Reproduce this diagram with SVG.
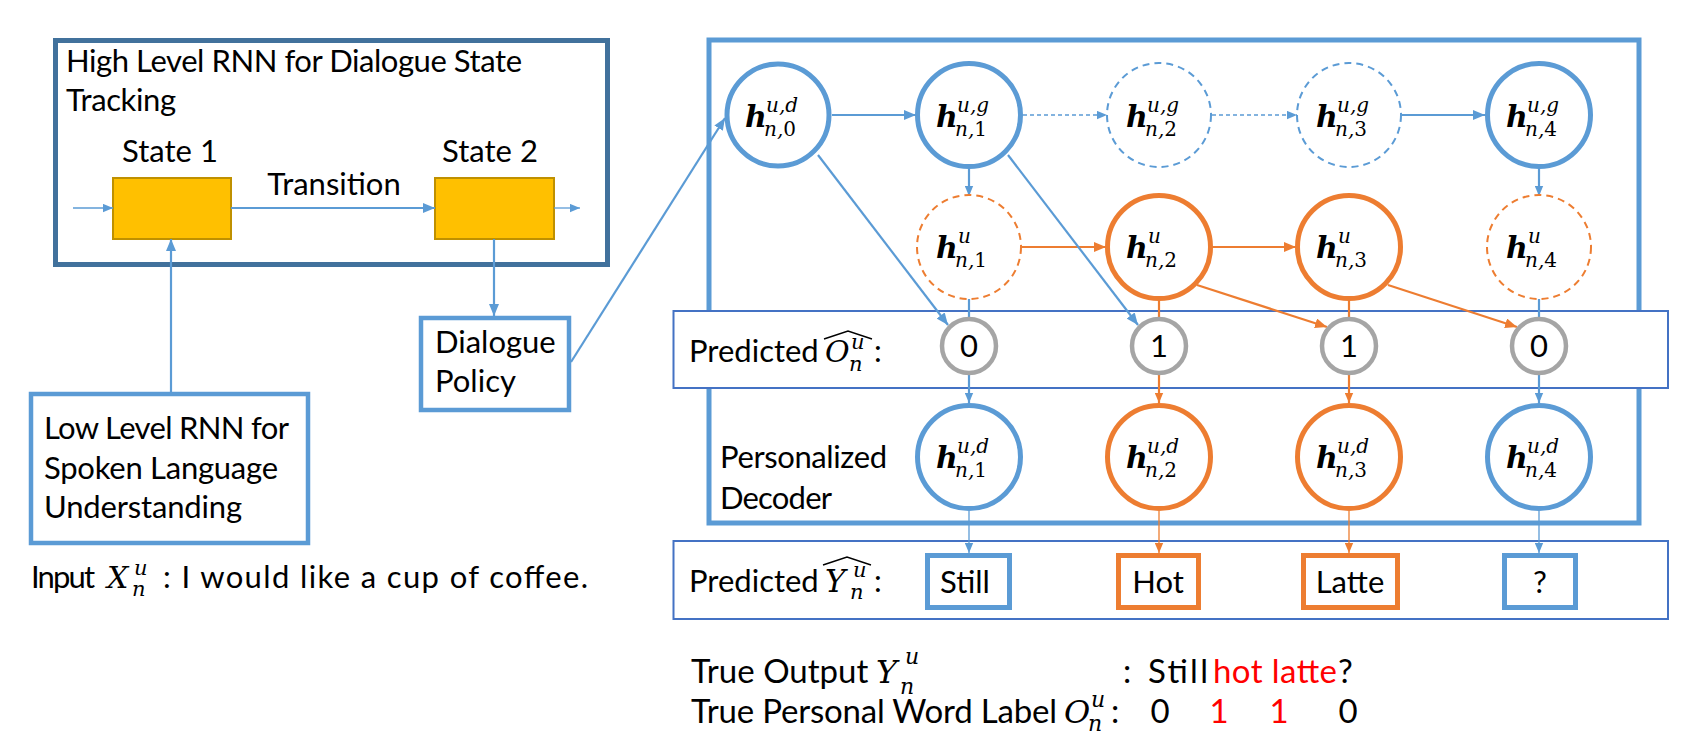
<svg xmlns="http://www.w3.org/2000/svg" width="1683" height="741" viewBox="0 0 1683 741">
<style>
.t{font-family:Lato,"Liberation Sans",sans-serif;font-size:31px;fill:#000}
.tb{font-family:Lato,"Liberation Sans",sans-serif;font-size:33px;fill:#000}
.red{fill:#FF0000}
.mi{font-family:"DejaVu Serif",serif;font-style:italic;fill:#000}
.h{font-family:"DejaVu Serif",serif;font-style:italic;font-weight:bold;font-size:30px;fill:#000}
.ss{font-family:"DejaVu Serif",serif;font-style:italic;font-size:20px;fill:#000}
.up{font-style:normal}
.nb{fill:#fff;stroke:#5B9BD5;stroke-width:5}
.no{fill:#fff;stroke:#ED7D31;stroke-width:5}
.db{fill:#fff;stroke:#5B9BD5;stroke-width:2;stroke-dasharray:7 5}
.do{fill:#fff;stroke:#ED7D31;stroke-width:2;stroke-dasharray:7 5}
.pc{fill:#fff;stroke:#A5A5A5;stroke-width:4.5}
.lb{stroke:#5B9BD5;stroke-width:2.2;fill:none}
.lo{stroke:#ED7D31;stroke-width:2.2;fill:none}
.thin{stroke-width:1.3}
.dash{stroke-dasharray:4 3;stroke-width:1.5}
.st{fill:#FFC000;stroke:#BF9000;stroke-width:2}
.bx{fill:#fff;stroke:#5B9BD5;stroke-width:4.5}
.ob{fill:#fff;stroke:#ED7D31;stroke-width:5}
.bb{fill:#fff;stroke:#5B9BD5;stroke-width:5}
.band{fill:#fff;stroke:#4472C4;stroke-width:2}
.hat{fill:none;stroke:#000;stroke-width:1.4}
</style>
<defs>
<marker id="ab" viewBox="0 0 12 10" refX="12" refY="5" markerWidth="12" markerHeight="10" markerUnits="userSpaceOnUse" orient="auto"><path d="M0,0 L12,5 L0,10 z" fill="#5B9BD5"/></marker>
<marker id="ao" viewBox="0 0 12 10" refX="12" refY="5" markerWidth="12" markerHeight="10" markerUnits="userSpaceOnUse" orient="auto"><path d="M0,0 L12,5 L0,10 z" fill="#ED7D31"/></marker>
<marker id="abs" viewBox="0 0 12 10" refX="12" refY="5" markerWidth="10" markerHeight="9" markerUnits="userSpaceOnUse" orient="auto"><path d="M0,0 L12,5 L0,10 z" fill="#5B9BD5"/></marker>
<marker id="aos" viewBox="0 0 12 10" refX="12" refY="5" markerWidth="10" markerHeight="9" markerUnits="userSpaceOnUse" orient="auto"><path d="M0,0 L12,5 L0,10 z" fill="#ED7D31"/></marker>
</defs>
<rect width="1683" height="741" fill="#fff"/>

<!-- Left: high level RNN -->
<g id="hl-rnn">
<rect x="55.5" y="40.5" width="552" height="224" fill="#fff" stroke="#41719C" stroke-width="5"/>
<text class="t" x="66" y="72" textLength="456">High Level RNN for Dialogue State</text>
<text class="t" x="66" y="111" textLength="110">Tracking</text>
</g>
<g id="state1">
<rect class="st" x="113" y="178" width="118" height="61"/>
<text class="t" x="170" y="162" text-anchor="middle">State 1</text>
</g>
<g id="state2">
<rect class="st" x="435" y="178" width="119" height="61"/>
<text class="t" x="490" y="162" text-anchor="middle">State 2</text>
</g>
<g id="transition-label"><text class="t" x="334" y="195" text-anchor="middle">Transition</text></g>
<g id="dialogue-policy">
<rect class="bx" x="421" y="318" width="148" height="92"/>
<text class="t" x="435" y="353">Dialogue</text>
<text class="t" x="435" y="392">Policy</text>
</g>
<g id="low-rnn">
<rect class="bx" x="31" y="394" width="277" height="149"/>
<text class="t" x="44" y="439" textLength="245">Low Level RNN for</text>
<text class="t" x="44" y="479" textLength="234">Spoken Language</text>
<text class="t" x="44" y="518" textLength="198">Understanding</text>
</g>
<g id="input-text">
<text class="t" x="31" y="588" font-size="32" textLength="64">Input</text>
<text class="mi" font-size="30"><tspan x="107" y="588">X</tspan><tspan x="134" y="575" font-size="21">u</tspan><tspan x="132" y="596" font-size="21">n</tspan></text>
<text class="t" x="163" y="588" font-size="33" textLength="425">: I would like a cup of coffee.</text>
</g>

<!-- Right: big box and bands -->
<g id="model-box"><rect x="709" y="40" width="930" height="483" fill="none" stroke="#5B9BD5" stroke-width="5"/></g>
<g id="pred-o-band">
<rect class="band" x="673.5" y="311" width="994.5" height="77"/>
<text class="t" x="689" y="362" font-size="29">Predicted</text>
<text class="mi" font-size="30"><tspan x="825" y="362">O</tspan><tspan x="851" y="349" font-size="21">u</tspan><tspan x="849" y="371" font-size="21">n</tspan></text>
<path class="hat" d="M824,339 L848,331 L872,339"/>
<text class="t" x="874" y="362">:</text>
</g>
<g id="pred-y-band">
<rect class="band" x="673.5" y="541" width="994.5" height="78"/>
<text class="t" x="689" y="592" font-size="29">Predicted</text>
<text class="mi" font-size="31"><tspan x="825" y="592">Y</tspan><tspan x="853" y="577" font-size="21">u</tspan><tspan x="850" y="599" font-size="21">n</tspan></text>
<path class="hat" d="M823,565 L847,557 L871,565"/>
<text class="t" x="874" y="592">:</text>
</g>
<g id="decoder-label">
<text class="t" x="720" y="468" textLength="167">Personalized</text>
<text class="t" x="720" y="509" textLength="112">Decoder</text>
</g>

<!-- Connectors -->
<g id="connectors">
<line class="lb thin" x1="73" y1="208" x2="113" y2="208" marker-end="url(#abs)"/>
<line class="lb" x1="231" y1="208" x2="435" y2="208" stroke-width="2.8" marker-end="url(#ab)"/>
<line class="lb thin" x1="554" y1="208" x2="580" y2="208" marker-end="url(#abs)"/>
<line class="lb" x1="171" y1="392" x2="171" y2="239" stroke-width="2.6" marker-end="url(#ab)"/>
<line class="lb" x1="494" y1="239" x2="494" y2="316" stroke-width="2.6" marker-end="url(#ab)"/>
<line class="lb" x1="571" y1="362" x2="725" y2="118" marker-end="url(#ab)"/>

<line class="lb" x1="832" y1="115" x2="916" y2="115" stroke-width="2.6" marker-end="url(#ab)"/>
<line class="lb dash" x1="1023" y1="115" x2="1107" y2="115" marker-end="url(#abs)"/>
<line class="lb dash" x1="1212" y1="115" x2="1297" y2="115" marker-end="url(#abs)"/>
<line class="lb" x1="1402" y1="115" x2="1485" y2="115" stroke-width="2.6" marker-end="url(#ab)"/>
<line class="lb" x1="969" y1="168" x2="969" y2="196" marker-end="url(#abs)"/>
<line class="lb" x1="1539" y1="168" x2="1539" y2="196" marker-end="url(#abs)"/>
<line class="lo" x1="1021" y1="247" x2="1106" y2="247" stroke-width="2.6" marker-end="url(#ao)"/>
<line class="lo" x1="1212" y1="247" x2="1296" y2="247" stroke-width="2.6" marker-end="url(#ao)"/>

<line class="lb" x1="818" y1="155" x2="948" y2="325" marker-end="url(#ab)"/>
<line class="lb" x1="1008" y1="155" x2="1138" y2="325" marker-end="url(#ab)"/>
<line class="lo" x1="1197" y1="285" x2="1327" y2="327" marker-end="url(#ao)"/>
<line class="lo" x1="1388" y1="285" x2="1517" y2="327" marker-end="url(#ao)"/>

<line class="lb" x1="969" y1="298" x2="969" y2="320"/>
<line class="lo" x1="1159" y1="300" x2="1159" y2="320"/>
<line class="lo" x1="1349" y1="300" x2="1349" y2="320"/>
<line class="lb" x1="1539" y1="298" x2="1539" y2="320"/>

<line class="lb" x1="969" y1="374" x2="969" y2="403" marker-end="url(#abs)"/>
<line class="lo" x1="1159" y1="374" x2="1159" y2="403" marker-end="url(#aos)"/>
<line class="lo" x1="1349" y1="374" x2="1349" y2="403" marker-end="url(#aos)"/>
<line class="lb" x1="1539" y1="374" x2="1539" y2="403" marker-end="url(#abs)"/>

<line class="lb thin" x1="969" y1="511" x2="969" y2="553" marker-end="url(#abs)"/>
<line class="lo thin" x1="1159" y1="511" x2="1159" y2="553" marker-end="url(#aos)"/>
<line class="lo thin" x1="1349" y1="511" x2="1349" y2="553" marker-end="url(#aos)"/>
<line class="lb thin" x1="1539" y1="511" x2="1539" y2="553" marker-end="url(#abs)"/>
</g>

<!-- Row 1 -->
<g id="h-n0-d"><circle class="nb" cx="778" cy="115" r="51"/>
<text class="h" x="745" y="127">h</text><text class="ss" x="766" y="112">u,d</text><text class="ss" x="764" y="136">n,<tspan class="up">0</tspan></text></g>
<g id="h-n1-g"><circle class="nb" cx="969" cy="115" r="51.5"/>
<text class="h" x="936" y="127">h</text><text class="ss" x="957" y="112">u,g</text><text class="ss" x="955" y="136">n,<tspan class="up">1</tspan></text></g>
<g id="h-n2-g"><circle class="db" cx="1159" cy="115" r="52"/>
<text class="h" x="1126" y="127">h</text><text class="ss" x="1147" y="112">u,g</text><text class="ss" x="1145" y="136">n,<tspan class="up">2</tspan></text></g>
<g id="h-n3-g"><circle class="db" cx="1349" cy="115" r="52"/>
<text class="h" x="1316" y="127">h</text><text class="ss" x="1337" y="112">u,g</text><text class="ss" x="1335" y="136">n,<tspan class="up">3</tspan></text></g>
<g id="h-n4-g"><circle class="nb" cx="1539" cy="115" r="51.5"/>
<text class="h" x="1506" y="127">h</text><text class="ss" x="1527" y="112">u,g</text><text class="ss" x="1525" y="136">n,<tspan class="up">4</tspan></text></g>

<!-- Row 2 -->
<g id="h-n1-u"><circle class="do" cx="969" cy="247" r="52"/>
<text class="h" x="936" y="258">h</text><text class="ss" x="958" y="243">u</text><text class="ss" x="955" y="267">n,<tspan class="up">1</tspan></text></g>
<g id="h-n2-u"><circle class="no" cx="1159" cy="247" r="51.5"/>
<text class="h" x="1126" y="258">h</text><text class="ss" x="1148" y="243">u</text><text class="ss" x="1145" y="267">n,<tspan class="up">2</tspan></text></g>
<g id="h-n3-u"><circle class="no" cx="1349" cy="247" r="51.5"/>
<text class="h" x="1316" y="258">h</text><text class="ss" x="1338" y="243">u</text><text class="ss" x="1335" y="267">n,<tspan class="up">3</tspan></text></g>
<g id="h-n4-u"><circle class="do" cx="1539" cy="247" r="52"/>
<text class="h" x="1506" y="258">h</text><text class="ss" x="1528" y="243">u</text><text class="ss" x="1525" y="267">n,<tspan class="up">4</tspan></text></g>

<!-- Row 3 -->
<g id="o1"><circle class="pc" cx="969" cy="346" r="27"/><text class="t" x="969" y="357" text-anchor="middle">0</text></g>
<g id="o2"><circle class="pc" cx="1159" cy="346" r="27"/><text class="t" x="1159" y="357" text-anchor="middle">1</text></g>
<g id="o3"><circle class="pc" cx="1349" cy="346" r="27"/><text class="t" x="1349" y="357" text-anchor="middle">1</text></g>
<g id="o4"><circle class="pc" cx="1539" cy="346" r="27"/><text class="t" x="1539" y="357" text-anchor="middle">0</text></g>

<!-- Row 4 -->
<g id="h-n1-d"><circle class="nb" cx="969" cy="457" r="51.5"/>
<text class="h" x="936" y="468">h</text><text class="ss" x="957" y="453">u,d</text><text class="ss" x="955" y="477">n,<tspan class="up">1</tspan></text></g>
<g id="h-n2-d"><circle class="no" cx="1159" cy="457" r="51.5"/>
<text class="h" x="1126" y="468">h</text><text class="ss" x="1147" y="453">u,d</text><text class="ss" x="1145" y="477">n,<tspan class="up">2</tspan></text></g>
<g id="h-n3-d"><circle class="no" cx="1349" cy="457" r="51.5"/>
<text class="h" x="1316" y="468">h</text><text class="ss" x="1337" y="453">u,d</text><text class="ss" x="1335" y="477">n,<tspan class="up">3</tspan></text></g>
<g id="h-n4-d"><circle class="nb" cx="1539" cy="457" r="51.5"/>
<text class="h" x="1506" y="468">h</text><text class="ss" x="1527" y="453">u,d</text><text class="ss" x="1525" y="477">n,<tspan class="up">4</tspan></text></g>

<!-- Outputs -->
<g id="y1"><rect class="bb" x="927.5" y="555.5" width="82" height="52"/><text class="t" x="965" y="593" text-anchor="middle">Still</text></g>
<g id="y2"><rect class="ob" x="1118.5" y="555.5" width="80" height="52"/><text class="t" x="1158" y="593" text-anchor="middle">Hot</text></g>
<g id="y3"><rect class="ob" x="1303.5" y="555.5" width="94" height="52"/><text class="t" x="1350" y="593" text-anchor="middle">Latte</text></g>
<g id="y4"><rect class="bb" x="1504.5" y="555.5" width="71" height="52"/><text class="t" x="1540" y="593" text-anchor="middle">?</text></g>

<!-- Bottom truth text -->
<g id="truth">
<text class="tb" x="691" y="683" font-size="31">True Output</text>
<text class="mi" font-size="32"><tspan x="876" y="683">Y</tspan><tspan x="905" y="664" font-size="22">u</tspan><tspan x="900" y="694" font-size="22">n</tspan></text>
<text class="tb" x="1123" y="683">:</text>
<text class="tb" x="1148" y="683" textLength="60">Still</text>
<text class="tb red" x="1213" y="683" textLength="124">hot latte</text>
<text class="tb" x="1338" y="683">?</text>
<text class="tb" x="691" y="723" textLength="366">True Personal Word Label</text>
<text class="mi" font-size="32"><tspan x="1064" y="723">O</tspan><tspan x="1091" y="707" font-size="22">u</tspan><tspan x="1088" y="731" font-size="22">n</tspan></text>
<text class="tb" x="1111" y="723">:</text>
<text class="tb" x="1160" y="723" text-anchor="middle">0</text>
<text class="tb red" x="1219" y="723" text-anchor="middle">1</text>
<text class="tb red" x="1279" y="723" text-anchor="middle">1</text>
<text class="tb" x="1348" y="723" text-anchor="middle">0</text>
</g>
</svg>
